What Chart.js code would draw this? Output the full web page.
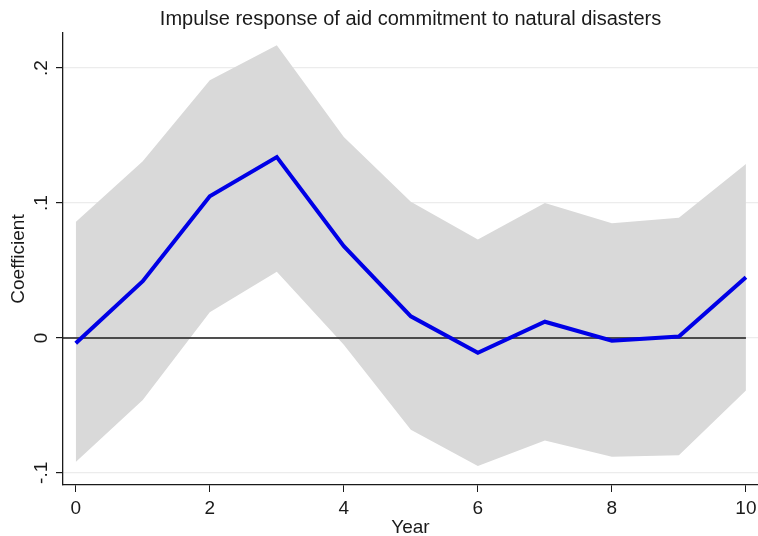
<!DOCTYPE html>
<html>
<head>
<meta charset="utf-8">
<script src="https://cdn.jsdelivr.net/npm/chart.js@4"></script>
<style>
  html, body { margin:0; padding:0; background:#fff; }
  #wrap { width:758px; height:536px; }
</style>
</head>
<body>
<div id="wrap"><canvas id="irf" width="758" height="536"></canvas></div>
<script>
// impulse response
const years = [0, 1, 2, 3, 4, 5, 6, 7, 8, 9, 10];
const coef  = [-0.004, 0.042, 0.105, 0.134, 0.068, 0.016, -0.011, 0.012, -0.002, 0.001, 0.045];
const upper = [0.086, 0.131, 0.191, 0.217, 0.149, 0.101, 0.073, 0.100, 0.085, 0.089, 0.129];
const lower = [-0.092, -0.046, 0.019, 0.049, -0.005, -0.068, -0.095, -0.076, -0.088, -0.087, -0.039];
const xTicks = [0, 2, 4, 6, 8, 10];
const yTicks = [-0.1, 0, 0.1, 0.2];
const yTickLabels = ["-.1", "0", ".1", ".2"];

const FONT = "Arial, 'Liberation Sans', sans-serif";
const pts = arr => years.map((x,i)=>({x, y: arr[i]}));

// zero line drawn right after the band so the blue line stays on top
const zeroLine = {
  id: "zeroLine",
  afterDatasetDraw(chart, args){
    if (args.index !== 1) return;
    const {ctx, chartArea, scales} = chart;
    const y = scales.y.getPixelForValue(0);
    ctx.save();
    ctx.strokeStyle = "#1a1a1a";
    ctx.lineWidth = 1.5;
    ctx.beginPath();
    ctx.moveTo(chartArea.left, y);
    ctx.lineTo(scales.x.getPixelForValue(years[years.length-1]), y);
    ctx.stroke();
    ctx.restore();
  }
};

// stata-like texts: title, rotated y labels, axis titles
const texts = {
  id: "texts",
  afterDraw(chart){
    const {ctx, chartArea, scales} = chart;
    ctx.save();
    ctx.fillStyle = "#1a1a1a";
    ctx.textAlign = "center";
    ctx.textBaseline = "middle";
    ctx.font = "20px " + FONT;
    ctx.fillText("Impulse response of aid commitment to natural disasters", (chartArea.left+chartArea.right)/2, 19);

    ctx.font = "19px " + FONT;
    yTicks.forEach((v,i)=>{
      const y = scales.y.getPixelForValue(v);
      ctx.save();
      ctx.translate(42, y);
      ctx.rotate(-Math.PI/2);
      ctx.fillText(yTickLabels[i], 0, 0);
      ctx.restore();
    });

    ctx.save();
    ctx.translate(19, 259);
    ctx.rotate(-Math.PI/2);
    ctx.fillText("Coefficient", 0, 0);
    ctx.restore();

    ctx.fillText("Year", (chartArea.left+chartArea.right)/2, 528);
    ctx.restore();
  }
};

Chart.defaults.font.family = FONT;
Chart.defaults.color = "#1a1a1a";

new Chart(document.getElementById("irf"), {
  type: "line",
  data: {
    datasets: [
      { label:"coef", data: pts(coef), borderColor:"#0000e6", borderWidth:4, pointRadius:0, fill:false, order:0, tension:0 },
      { label:"upper", data: pts(upper), borderWidth:0, borderColor:"rgba(0,0,0,0)", backgroundColor:"#d9d9d9", pointRadius:0, fill:"+1", order:1, tension:0 },
      { label:"lower", data: pts(lower), borderWidth:0, borderColor:"rgba(0,0,0,0)", pointRadius:0, fill:false, order:2, tension:0 }
    ]
  },
  options: {
    responsive:false, animation:false,
    layout:{ padding:{ top:33, left:0, right:0, bottom:0 } },
    plugins:{ legend:{ display:false }, tooltip:{ enabled:false } },
    scales:{
      x:{
        type:"linear", min:-0.19, max:10.18,
        afterBuildTicks: s => { s.ticks = xTicks.map(v=>({value:v})); },
        afterFit: s => { s.height = 51; s.paddingLeft = 0; s.paddingRight = 0; },
        grid:{ display:true, drawOnChartArea:false, drawTicks:true, tickLength:7, tickColor:"#1a1a1a" },
        border:{ color:"#1a1a1a", width:1.3 },
        ticks:{ font:{ size:19 }, padding:5, maxRotation:0, color:"#1a1a1a" }
      },
      y:{
        type:"linear", min:-0.109, max:0.226,
        afterBuildTicks: s => { s.ticks = yTicks.map(v=>({value:v})); },
        afterFit: s => { s.width = 63; s.paddingTop = 0; s.paddingBottom = 0; },
        grid:{ color:"#ececec", lineWidth:1.2, drawTicks:true, tickLength:7, tickColor:"#1a1a1a" },
        border:{ color:"#1a1a1a", width:1.3 },
        ticks:{ display:false }
      }
    }
  },
  plugins:[zeroLine, texts]
});
</script>
</body>
</html>
